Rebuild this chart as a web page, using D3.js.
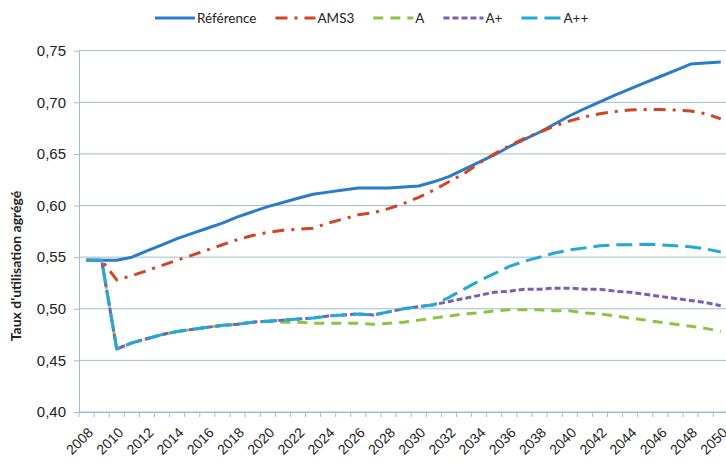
<!DOCTYPE html>
<html>
<head>
<meta charset="utf-8">
<script src="https://cdnjs.cloudflare.com/ajax/libs/d3/7.8.5/d3.min.js"></script>
<style>
  html, body { margin: 0; padding: 0; background: #fff; }
  svg { display: block; font-family: Lato, "Open Sans", sans-serif; }
</style>
</head>
<body>
<svg id="chart" width="726" height="463"></svg>
<script>
const years = d3.range(2008, 2051);
const yTicks = [0.40, 0.45, 0.50, 0.55, 0.60, 0.65, 0.70, 0.75];
const xLabelYears = years.filter(y => y % 2 === 0);
const seriesNames = ["Référence", "AMS3", "A", "A+", "A++"];

const reference = [0.547,0.547,0.547,0.550,0.556,0.562,0.568,0.573,0.578,0.583,0.589,0.594,0.599,0.603,0.607,0.611,0.613,0.615,0.617,0.617,0.617,0.618,0.619,0.623,0.628,0.635,0.642,0.649,0.657,0.664,0.671,0.679,0.687,0.694,0.7005,0.707,0.713,0.719,0.725,0.731,0.737,0.738,0.739];
const ams3 = [0.547,0.547,0.528,0.532,0.537,0.542,0.547,0.552,0.557,0.562,0.567,0.571,0.574,0.576,0.577,0.578,0.583,0.587,0.591,0.593,0.597,0.602,0.608,0.615,0.623,0.631,0.641,0.650,0.658,0.665,0.671,0.677,0.682,0.686,0.689,0.691,0.6925,0.693,0.693,0.6925,0.6915,0.689,0.684];
const seriesA = [0.547,0.547,0.461,0.467,0.471,0.475,0.478,0.480,0.482,0.484,0.485,0.487,0.488,0.487,0.487,0.486,0.486,0.486,0.486,0.485,0.486,0.487,0.489,0.491,0.493,0.495,0.496,0.498,0.499,0.499,0.499,0.498,0.498,0.496,0.495,0.493,0.491,0.489,0.487,0.485,0.483,0.481,0.478];
const seriesAplus = [0.547,0.547,0.461,0.467,0.471,0.475,0.478,0.480,0.482,0.484,0.485,0.487,0.488,0.489,0.490,0.491,0.493,0.494,0.495,0.494,0.497,0.500,0.502,0.504,0.507,0.510,0.513,0.516,0.517,0.519,0.519,0.520,0.520,0.519,0.519,0.517,0.516,0.514,0.512,0.510,0.508,0.506,0.503];
const seriesAplusplus = [0.547,0.547,0.461,0.467,0.471,0.475,0.478,0.480,0.482,0.484,0.485,0.487,0.488,0.489,0.490,0.491,0.493,0.494,0.495,0.494,0.497,0.500,0.502,0.504,0.511,0.519,0.527,0.534,0.541,0.546,0.550,0.554,0.557,0.559,0.561,0.562,0.562,0.5625,0.562,0.561,0.560,0.558,0.555];

const colors = ["#2b7bc9", "#cf4528", "#8cc43f", "#7a5db4", "#22a9d6"];
const dashes = [null, "12,7,3,7", "10,7", "6,3", "16,7"];
const allValues = [reference, ams3, seriesA, seriesAplus, seriesAplusplus];

const svg = d3.select("#chart");
const plotLeft = 79, plotTop = 50.7, plotBottom = 412, band = 15.1;
const x = d3.scaleBand().domain(years).range([plotLeft, plotLeft + band * years.length]).padding(0);
const y = d3.scaleLinear().domain([0.40, 0.75]).range([plotBottom, plotTop]);
const cx = d => x(d) + x.bandwidth() / 2;
const fmt = d3.formatLocale({decimal: ",", thousands: " ", grouping: [3], currency: ["", "€"]}).format(".2f");
const gridColor = "#9dbdd0";

// gridlines
svg.append("g").selectAll("line").data(yTicks).join("line")
  .attr("x1", plotLeft).attr("x2", plotLeft + band * years.length)
  .attr("y1", d => y(d)).attr("y2", d => y(d))
  .attr("stroke", gridColor).attr("stroke-width", 1);

// y axis
const yAxis = svg.append("g").attr("transform", `translate(${plotLeft},0)`)
  .call(d3.axisLeft(y).tickValues(yTicks).tickFormat(fmt).tickSize(5).tickSizeOuter(0).tickPadding(8));
yAxis.select(".domain").attr("stroke", gridColor);
yAxis.selectAll(".tick line").attr("stroke", gridColor);
yAxis.selectAll("text").attr("font-size", 15).attr("fill", "#222");

// x axis (labels)
const xAxis = svg.append("g").attr("transform", `translate(0,${plotBottom})`)
  .call(d3.axisBottom(x).tickValues(xLabelYears).tickSize(0).tickSizeOuter(0).tickPadding(0));
xAxis.select(".domain").attr("stroke", gridColor);
xAxis.selectAll("text")
  .attr("font-size", 14).attr("fill", "#222")
  .attr("text-anchor", "end")
  .attr("dy", "0.35em")
  .attr("transform", "translate(4,18) rotate(-45)");
// x tick marks at band boundaries
svg.append("g").selectAll("line").data(years.map(d => x(d)).concat([x.range()[1]])).join("line")
  .attr("x1", d => d).attr("x2", d => d)
  .attr("y1", plotBottom).attr("y2", plotBottom + 5)
  .attr("stroke", gridColor);

// y title
svg.append("text")
  .attr("transform", "translate(21,266) rotate(-90)")
  .attr("text-anchor", "middle")
  .attr("font-size", 14).attr("font-weight", "bold").attr("fill", "#222")
  .text("Taux d'utilisation agrégé");

// lines
const line = d3.line().x((d, i) => cx(years[i])).y(d => y(d));
allValues.forEach((vals, i) => {
  svg.append("path").datum(vals)
    .attr("d", line)
    .attr("fill", "none")
    .attr("stroke", colors[i])
    .attr("stroke-width", 3)
    .attr("stroke-dasharray", dashes[i])
    .attr("stroke-linejoin", "round");
});

// legend
const lg = svg.append("g").attr("transform", "translate(155,18)");
let lx = 0;
seriesNames.forEach((name, i) => {
  lg.append("line").attr("x1", lx).attr("x2", lx + 40).attr("y1", 0).attr("y2", 0)
    .attr("stroke", colors[i]).attr("stroke-width", 3).attr("stroke-dasharray", dashes[i]);
  const t = lg.append("text").attr("x", lx + 42).attr("y", 0).attr("dy", "0.35em")
    .attr("font-size", 13.5).attr("fill", "#222").text(name);
  lx += 42 + t.node().getComputedTextLength() + 19;
});
</script>
</body>
</html>
